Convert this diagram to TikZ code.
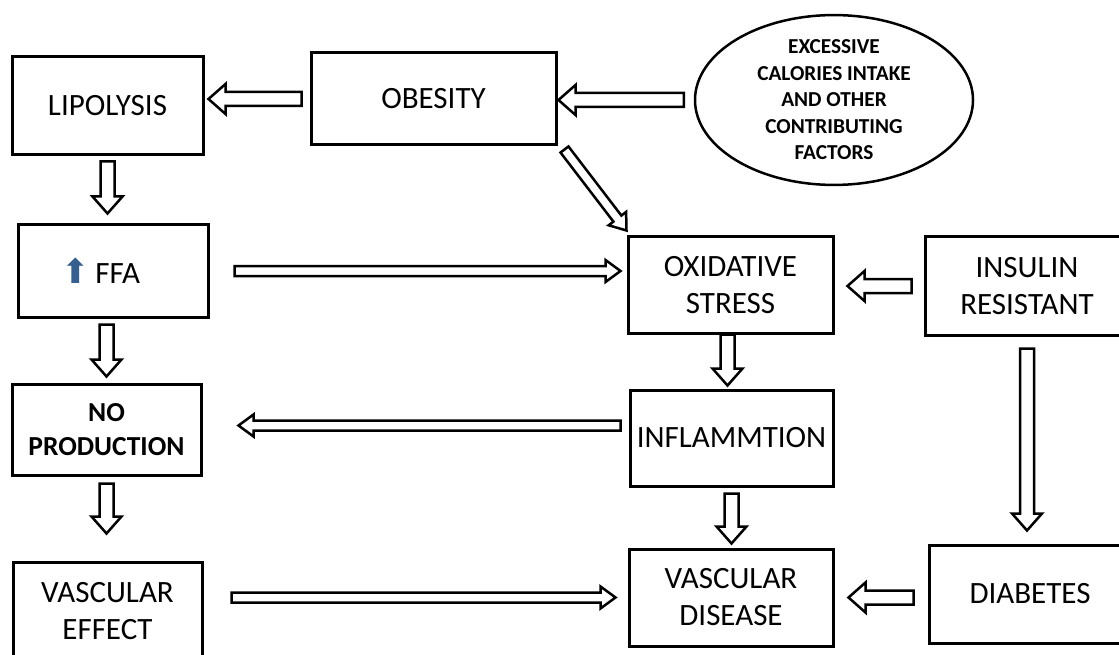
\documentclass[tikz,border=0pt]{standalone}
\usepackage{fontspec}
\setmainfont{Carlito}
\newfontfamily\symfont{DejaVu Sans}
\usetikzlibrary{calc,shapes.geometric}
\definecolor{arrowblue}{RGB}{54,95,145}
\tikzset{
  shaft/.store in=\shaftw, wing/.store in=\wingw, headlen/.store in=\headl,
  shaft=7pt, wing=15pt, headlen=17pt,
  slim/.style={shaft=5pt, wing=11pt, headlen=15pt},
  hollow/.style={draw, line width=2.5pt, line join=miter, fill=white,
    to path={($(\tikztostart)!\shaftw!90:(\tikztotarget)$)
      -- ($(\tikztotarget)!\headl!(\tikztostart)!\shaftw!90:(\tikztotarget)$)
      -- ($(\tikztotarget)!\headl!(\tikztostart)!\wingw!90:(\tikztotarget)$)
      -- (\tikztotarget)
      -- ($(\tikztotarget)!\headl!(\tikztostart)!\wingw!-90:(\tikztotarget)$)
      -- ($(\tikztotarget)!\headl!(\tikztostart)!\shaftw!-90:(\tikztotarget)$)
      -- ($(\tikztostart)!\shaftw!-90:(\tikztotarget)$) -- cycle}},
  stage/.style={draw, line width=3pt, align=center, inner sep=0pt,
    font=\fontsize{31}{37}\selectfont}
}
\begin{document}
\begin{tikzpicture}[x=1pt, y=-1pt]
  \useasboundingbox (0,0) rectangle (1119,655);

  \node[stage, minimum width=191pt, minimum height=98pt] (lipo) at (107.5,106) {LIPOLYSIS};
  \node[stage, minimum width=245pt, minimum height=92pt] (obes) at (433.5,99)  {OBESITY};
  \node[ellipse, draw, line width=2.5pt, minimum width=278pt, minimum height=166pt,
        inner sep=0pt, align=center, font=\bfseries\fontsize{21.3}{26.5}\selectfont]
        (cause) at (834,100) {EXCESSIVE\\CALORIES INTAKE\\AND OTHER\\CONTRIBUTING\\FACTORS};
  \node[stage, minimum width=190pt, minimum height=92pt] (ffa)  at (113,271)
        {{\symfont\color{arrowblue}\fontsize{34}{34}\selectfont ⬆}\,FFA\hspace*{24pt}};
  \node[stage, minimum width=189pt, minimum height=91pt,
        font=\bfseries\fontsize{27.5}{34}\selectfont] (nopr) at (106.5,429.5) {NO\\PRODUCTION};
  \node[stage, minimum width=189pt, minimum height=98pt] (vase) at (107.5,611) {VASCULAR\\EFFECT};
  \node[stage, minimum width=205pt, minimum height=96pt] (oxid) at (730.5,285) {OXIDATIVE\\STRESS};
  \node[stage, minimum width=204pt, minimum height=98pt] (insr) at (1027,286)  {INSULIN\\RESISTANT};
  \node[stage, minimum width=203pt, minimum height=96pt] (infl) at (731.5,438) {INFLAMMTION};
  \node[stage, minimum width=204pt, minimum height=97pt] (vasd) at (731,597.5) {VASCULAR\\DISEASE};
  \node[stage, minimum width=202pt, minimum height=98pt] (diab) at (1030,594)  {DIABETES};

  \draw[hollow] ([xshift=-8pt]obes.west) to ([xshift=4pt]obes.west -| lipo.east);
  \draw[hollow] ([xshift=-10pt]cause.west) to ([xshift=1pt]cause.west -| obes.east);
  \draw[hollow] ([yshift=-5pt]lipo.south) to ([yshift=10pt]lipo.south |- ffa.north);
  \draw[hollow] ([yshift=-6pt]ffa.south -| nopr.north) to ([yshift=6pt]nopr.north);
  \draw[hollow] ([yshift=-7pt]nopr.south) to ([yshift=27pt]nopr.south |- vase.north);
  \draw[hollow, slim] ([shift={(7pt,-3pt)}]obes.south east) to ([yshift=5pt]oxid.north west);
  \draw[hollow, slim] ([xshift=25pt]ffa.east) to ([xshift=-6pt]ffa.east -| oxid.west);
  \draw[hollow] ([xshift=-12pt]insr.west) to ([xshift=13pt]insr.west -| oxid.east);
  \draw[hollow] ([xshift=-3pt]oxid.south) to ([xshift=-3pt,yshift=3pt]oxid.south |- infl.north);
  \draw[hollow, slim] ([xshift=-8pt,yshift=4pt]infl.west |- nopr.east) to ([xshift=36pt,yshift=4pt]nopr.east);
  \draw[hollow] ([yshift=-12pt]insr.south) to ([yshift=13pt]insr.south |- diab.north);
  \draw[hollow] ([yshift=-6pt]infl.south) to ([yshift=4pt]infl.south |- vasd.north);
  \draw[hollow, slim] ([xshift=28pt]vase.east |- vasd.west) to ([xshift=-12pt]vasd.west);
  \draw[hollow] ([xshift=-14pt]diab.west |- vasd.east) to ([xshift=14pt]vasd.east);
\end{tikzpicture}
\end{document}
